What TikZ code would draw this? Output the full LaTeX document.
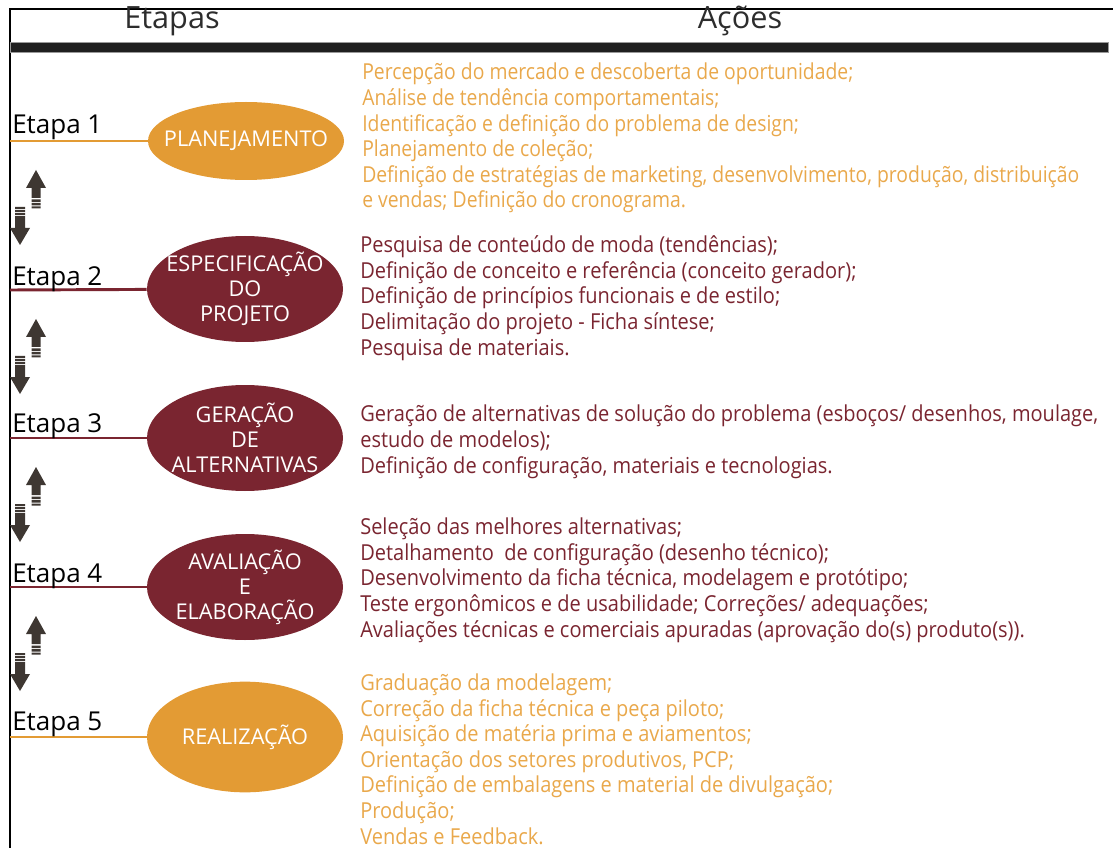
\documentclass[tikz,border=0pt]{standalone}
\usepackage{fontspec}
\setmainfont{Open Sans}
\newfontfamily\actfont{Open Sans}[FakeStretch=0.88]
\newfontfamily\actfontlargo{Open Sans}[FakeStretch=0.91]
\usetikzlibrary{shapes.geometric}
\definecolor{laranja}{RGB}{227,155,52}
\definecolor{laranjatxt}{RGB}{233,168,75}
\definecolor{vinho}{RGB}{122,37,48}
\definecolor{seta}{RGB}{62,55,50}
\definecolor{cabec}{RGB}{45,45,45}
\begin{document}
\begin{tikzpicture}[x=0.75pt,y=-0.75pt,
  etapa/.style={anchor=base west,inner sep=0pt,font=\fontsize{19.5}{22}\selectfont},
  fase/.style={ellipse,inner sep=0pt,minimum width=147pt,minimum height=79.5pt},
  rotulo/.style={inner sep=0pt,align=center,text=white,font=\fontsize{16.3}{18.75}\selectfont},
  acoes/.style={anchor=base west,inner sep=0pt,align=left,font=\actfontlargo\fontsize{16.5}{19.2}\selectfont},
  titulo/.style={anchor=base,inner sep=0pt,text=cabec,font=\fontsize{23}{26}\selectfont},
  liga/.style={line width=2.2pt}]
\useasboundingbox (0,0) rectangle (1113,848);
% moldura e cabecalho
\draw[line width=1.1pt] (10,848) -- (10,9) -- (1113,9);
\node[titulo] (tEtapas) at (172,29) {Etapas};
\node[titulo] (tAcoes) at (740,29) {Ações};
\fill[black!88,draw=black!40] (10,42) rectangle (1108,52);
% etapa 1
\node[fase,fill=laranja,minimum height=58.5pt] (f1) at (246,141) {};
\node[rotulo] (r1) at (f1) {PLANEJAMENTO};
\coordinate (b1) at (10,141);
\draw[liga,laranja] (b1) -- (f1);
\node[etapa] (e1) at (12,134) {Etapa 1};
\node[acoes,text=laranjatxt,font=\actfont\fontsize{16.5}{19.2}\selectfont] (a1) at (362,208) {Percepção do mercado e descoberta de oportunidade;\\
Análise de tendência comportamentais;\\
Identificação e definição do problema de design;\\
Planejamento de coleção;\\
Definição de estratégias de marketing, desenvolvimento, produção, distribuição\\
e vendas; Definição do cronograma.};
% etapa 2
\node[fase,fill=vinho] (f2) at (245,289) {};
\node[rotulo] (r2) at (f2) {ESPECIFICAÇÃO\\DO\\PROJETO};
\coordinate (b2) at (10,290);
\draw[liga,vinho] (b2) -- (f2);
\node[etapa] (e2) at (12,286) {Etapa 2};
\node[acoes,text=vinho] (a2) at (360,355) {Pesquisa de conteúdo de moda (tendências);\\
Definição de conceito e referência (conceito gerador);\\
Definição de princípios funcionais e de estilo;\\
Delimitação do projeto - Ficha síntese;\\
Pesquisa de materiais.};
% etapa 3
\node[fase,fill=vinho] (f3) at (245,438) {};
\node[rotulo] (r3) at (f3) {GERAÇÃO\\DE\\ALTERNATIVAS};
\coordinate (b3) at (10,438);
\draw[liga,vinho] (b3) -- (f3);
\node[etapa] (e3) at (12,432) {Etapa 3};
\node[acoes,text=vinho] (a3) at (360,473) {Geração de alternativas de solução do problema (esboços/ desenhos, moulage,\\
estudo de modelos);\\
Definição de configuração, materiais e tecnologias.};
% etapa 4
\node[fase,fill=vinho] (f4) at (245,587) {};
\node[rotulo] (r4) at (f4) {AVALIAÇÃO\\E\\ELABORAÇÃO};
\coordinate (b4) at (10,587);
\draw[liga,vinho] (b4) -- (f4);
\node[etapa] (e4) at (12,582) {Etapa 4};
\node[acoes,text=vinho] (a4) at (360,637) {Seleção das melhores alternativas;\\
Detalhamento\ \ de configuração (desenho técnico);\\
Desenvolvimento da ficha técnica, modelagem e protótipo;\\
Teste ergonômicos e de usabilidade; Correções/ adequações;\\
Avaliações técnicas e comerciais apuradas (aprovação do(s) produto(s)).};
% etapa 5
\node[fase,fill=laranja,minimum height=83pt] (f5) at (245,737) {};
\node[rotulo] (r5) at (f5) {REALIZAÇÃO};
\coordinate (b5) at (10,737);
\draw[liga,laranja] (b5) -- (f5);
\node[etapa] (e5) at (12,730) {Etapa 5};
\node[acoes,text=laranjatxt] (a5) at (360,844) {Graduação da modelagem;\\
Correção da ficha técnica e peça piloto;\\
Aquisição de matéria prima e aviamentos;\\
Orientação dos setores produtivos, PCP;\\
Definição de embalagens e material de divulgação;\\
Produção;\\
Vendas e Feedback.};
% setas entre etapas
\foreach \y in {141,290,438,587}{
  \begin{scope}[shift={(0,\y)}]
    \fill[seta] (36,29) -- (46,47) -- (40.5,47) -- (40.5,57) -- (31.5,57) -- (31.5,47) -- (26,47) -- cycle;
    \fill[seta] (31.5,58.5) rectangle (40.5,61) (31.5,62) rectangle (40.5,64.5) (31.5,65.5) rectangle (40.5,67.5);
    \fill[seta] (15,66) rectangle (25,68) (15,69) rectangle (25,71) (15,72) rectangle (25,74);
    \fill[seta] (15,75) -- (25,75) -- (25,87) -- (30,87) -- (20,104) -- (10,87) -- (15,87) -- cycle;
  \end{scope}
}
\end{tikzpicture}
\end{document}
